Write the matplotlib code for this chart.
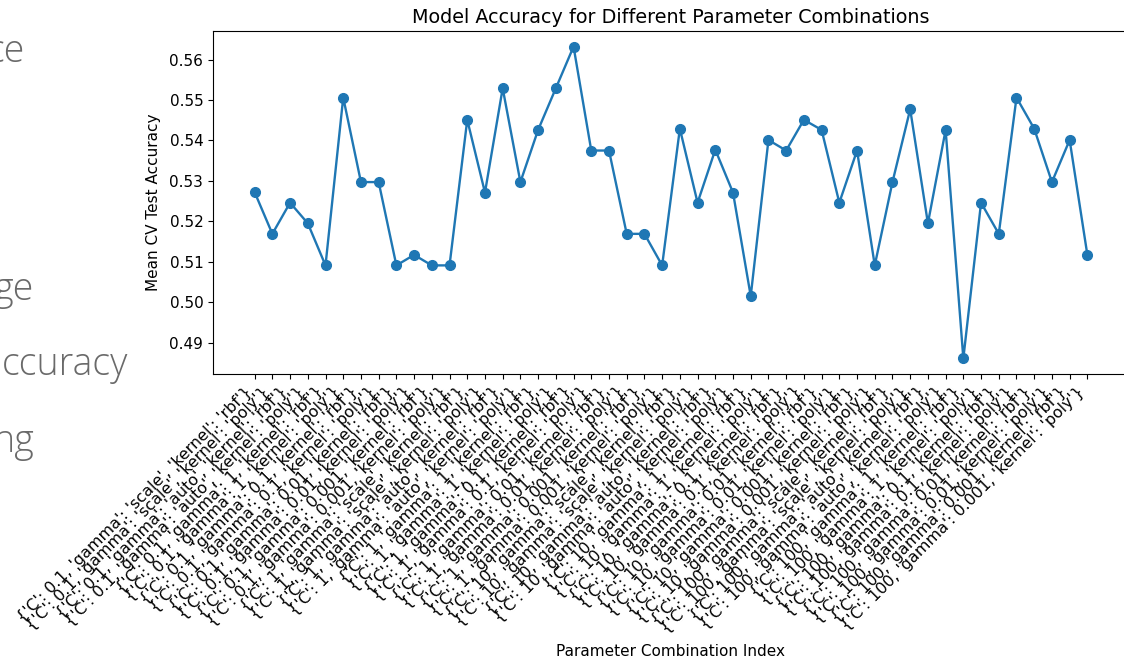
import matplotlib
matplotlib.use("Agg")
import matplotlib.pyplot as plt

# parameter grid, same order as the GridSearch results
C_values = ["0.1", "1", "10", "100"]
gamma_values = ["'scale'", "'auto'", "1", "0.1", "0.01", "0.001"]
kernels = ["rbf", "poly"]

mean_scores = [
    0.5272, 0.5169, 0.5246, 0.5195, 0.5091, 0.5506, 0.5297, 0.5297,
    0.5091, 0.5117, 0.5091, 0.5091, 0.5451, 0.5271, 0.5529, 0.5297,
    0.5426, 0.5529, 0.5632, 0.5375, 0.5375, 0.5169, 0.5169, 0.5091,
    0.5429, 0.5246, 0.5377, 0.5271, 0.5015, 0.5401, 0.5375, 0.5451,
    0.5426, 0.5246, 0.5375, 0.5091, 0.5297, 0.5477, 0.5195, 0.5426,
    0.4861, 0.5246, 0.5169, 0.5506, 0.5429, 0.5297, 0.5401, 0.5117,
]

labels = []
for c in C_values:
    for g in gamma_values:
        for k in kernels:
            labels.append("{'C': %s, 'gamma': %s, 'kernel': '%s'}" % (c, g, k))

# slide text that is partly visible at the left edge
side_text = ["ce", "ge", "ccuracy", "ng"]
side_x = [25, 33, 128, 34]
side_y = [52, 290, 365, 442]

fig = plt.figure(figsize=(11.24, 6.62), dpi=100)
ax = fig.add_axes([213 / 1124, 1 - 374 / 662, 916 / 1124, 343 / 662])

idx = list(range(len(mean_scores)))
ax.plot(idx, mean_scores, marker="o", color="#1f77b4", linewidth=1.7, markersize=7)
ax.set_xticks(idx)
ax.set_xticklabels(labels, rotation=45, ha="right", fontsize=11.4)
ax.tick_params(axis="y", labelsize=11)
ax.set_title("Model Accuracy for Different Parameter Combinations", fontsize=13.8)
ax.set_ylabel("Mean CV Test Accuracy", fontsize=11, labelpad=6)
fig.text(670 / 1124, 1 - 652 / 662, "Parameter Combination Index",
         ha="center", va="center", fontsize=11)

for t, x, y in zip(side_text, side_x, side_y):
    fig.text(x / 1124, 1 - y / 662, t, ha="right", va="center",
             fontsize=27, color="#6a6a6a", family="Open Sans", fontweight="light")

fig.savefig("out.png", dpi=100)
